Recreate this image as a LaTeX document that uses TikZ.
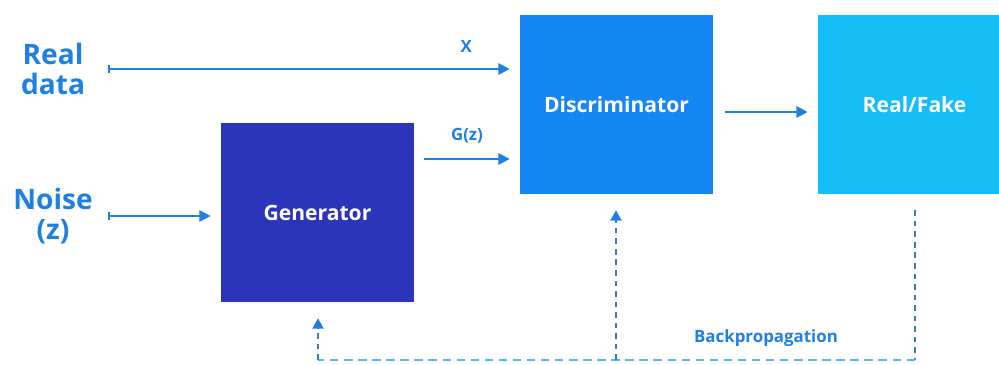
\documentclass[tikz,border=0pt]{standalone}
\usepackage{fontspec}
\setmainfont{Open Sans}
\usetikzlibrary{arrows.meta,positioning}
\definecolor{txtblue}{HTML}{1E80E2}
\definecolor{genblue}{HTML}{2B35B9}
\definecolor{disblue}{HTML}{1686F5}
\definecolor{rfblue}{HTML}{15BEF7}
\definecolor{dashdark}{HTML}{3A78C0}
\definecolor{dashlight}{HTML}{55B6F2}

\begin{document}
\begin{tikzpicture}[x=0.025cm,y=-0.025cm,>={Triangle[length=2.8mm,width=2.8mm]},
      box/.style={rectangle,minimum width=4.825cm,minimum height=4.475cm,inner sep=0pt,
        text=white,font=\bfseries\fontsize{15}{17}\selectfont},
      side/.style={text=txtblue,align=center,font=\bfseries\fontsize{20}{23}\selectfont},
      lbl/.style={text=txtblue,font=\bfseries\fontsize{12}{14}\selectfont},
      flow/.style={draw=txtblue,line width=1.4pt},
      vdash/.style={draw=dashdark,line width=1.1pt,dash pattern=on 4pt off 3.5pt},
      hdash/.style={draw=dashlight,line width=1.3pt,dash pattern=on 6pt off 4pt},
      up/.style={-{Triangle[length=2.6mm,width=2.8mm,color=txtblue]}}]
    \useasboundingbox (0,0) rectangle (999,365);
    % inputs
    \node[side] (real) at (53,69) {Real\\[-2pt]data};
    \node[side] (noise) at (53,216) {Noise\\[-2pt](z)};
    \coordinate (rs) at (108,69);
    \coordinate (ns) at (108,216);
    % blocks
    \node[box,fill=genblue] (gen) at (317.5,212.5) {Generator};
    \node[box,fill=disblue] (dis) at (616.5,104.5) {Discriminator};
    \node[box,fill=rfblue] (rf) at (914.5,104.5) {Real/Fake};
    % forward arrows
    \draw[flow,{Bar[width=2.2mm]}->,shorten >=0.25cm] (rs) -- (dis.west |- rs)
      node[lbl,pos=0.87,above=8pt] (x) {X};
    \draw[flow,{Bar[width=2.2mm]}->,shorten >=0.25cm] (ns) -- (gen.west |- ns);
    \draw[flow,->,shorten <=0.25cm,shorten >=0.25cm] (gen.east |- 0,159) -- (dis.west |- 0,159)
      node[lbl,midway,above=7pt] (gz) {G(z)};
    \draw[flow,->,shorten <=0.28cm,shorten >=0.25cm] (dis.east |- 0,112) -- (rf.west |- 0,112);
    % backpropagation
    \coordinate (rfb) at (915,360);
    \coordinate (dib) at (616,360);
    \coordinate (geb) at (318,360);
    \draw[vdash,shorten <=0.4cm] (rf.south -| rfb) -- (rfb);
    \draw[hdash] (rfb) -- (geb);
    \draw[vdash,up,shorten >=0.4cm] (dib) -- (dis.south -| dib);
    \draw[vdash,up,shorten >=0.4cm] (geb) -- (gen.south -| geb);
    \node[lbl] (bp) at (766,338) {Backpropagation};
\end{tikzpicture}
\end{document}
